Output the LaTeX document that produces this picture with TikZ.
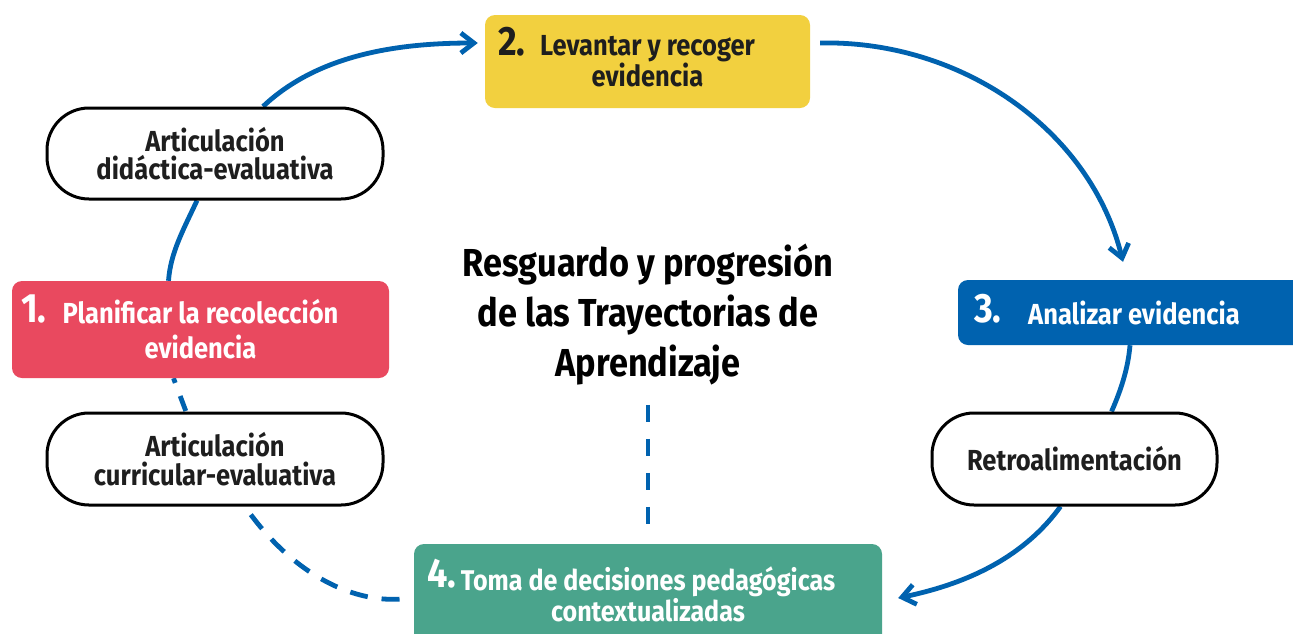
\documentclass[tikz,border=0pt]{standalone}
\usepackage{fontspec}
\setmainfont{Fira Sans}[FakeStretch=0.88]
\usetikzlibrary{arrows.meta}
\definecolor{cyel}{HTML}{F2D03F}
\definecolor{cred}{HTML}{E9495F}
\definecolor{cblue}{HTML}{0062AF}
\definecolor{cgreen}{HTML}{4AA48C}
\definecolor{ctext}{HTML}{1E1E1E}
\pgfdeclarelayer{bg}
\pgfdeclarelayer{conn}
\pgfsetlayers{bg,conn,main}
\begin{document}
\begin{tikzpicture}[x=1pt,y=1pt,
  stage/.style={rounded corners=10pt,inner sep=0pt,draw=none,align=center,
    font=\bfseries\fontsize{29}{27}\selectfont},
  pill/.style={draw=black,line width=3pt,rounded corners=42pt,fill=white,inner sep=0pt,
    align=center,text=ctext,font=\bfseries\fontsize{29}{28.5}\selectfont},
  num/.style={font=\bfseries\fontsize{41}{41}\selectfont,inner sep=0pt,anchor=base west},
  link/.style={draw=cblue,line width=4.8pt},
  tipped/.style={-{Straight Barb[length=13pt,width=20pt]}},
  dlink/.style={link,dash pattern=on 18pt off 14pt}]
\useasboundingbox (0,0) rectangle (1293,-633);
\begin{pgfonlayer}{bg}
\fill[white] (0,0) rectangle (1293,-633);
\end{pgfonlayer}

% stages
\node[stage,fill=cyel,text=ctext,minimum width=325pt,minimum height=93pt] (s2) at (647.5,-61.5)
  {Levantar y recoger\\evidencia};
\node[stage,fill=cred,text=white,minimum width=377pt,minimum height=97pt,
  font=\bfseries\fontsize{29}{35}\selectfont] (s1) at (200.5,-329.5)
  {Planificar la recolección\\evidencia};
\node[stage,fill=cblue,text=white,minimum width=352pt,minimum height=65pt] (s3) at (1134,-312.5)
  {Analizar evidencia};
\node[stage,fill=cgreen,text=white,minimum width=468pt,minimum height=101pt,
  font=\bfseries\fontsize{28.5}{28}\selectfont] (s4) at (648,-594.5)
  {Toma de decisiones pedagógicas\\contextualizadas};

% numbers
\node[num,text=ctext] (n2) at (498,-55) {2.};
\node[num,text=white] (n1) at (21,-322) {1.};
\node[num,text=white] (n3) at (974,-322) {3.};
\node[num,text=white] (n4) at (427,-587) {4.};

% pills
\node[pill,minimum width=336pt,minimum height=91pt] (pA) at (215,-153.5)
  {Articulación\\didáctica-evaluativa};
\node[pill,minimum width=336pt,minimum height=92pt] (pB) at (215,-459)
  {Articulación\\curricular-evaluativa};
\node[pill,minimum width=285pt,minimum height=92pt] (pC) at (1074.5,-459)
  {Retroalimentación};

% title
\node[inner sep=0pt,align=center,text=black,font=\bfseries\fontsize{39}{50}\selectfont]
  (title) at (648,-315) {Resguardo y progresión\\de las Trayectorias de\\Aprendizaje};

% connectors
\begin{pgfonlayer}{conn}
\draw[link,tipped] ([xshift=48pt]pA.north) .. controls +(55,52) and +(-80,0) ..
  ([xshift=-7pt,yshift=18.5pt]s2.west);
\draw[link] ([xshift=-18pt]pA.south) .. controls +(-14,-30) and +(2,28) ..
  ([xshift=-32pt]s1.north);
\draw[link,dash pattern=on 16pt off 14pt,dash phase=11pt] ([xshift=-27pt]s1.south) --
  ([xshift=-29pt]pB.north);
\draw[dlink,dash phase=22pt] ([xshift=30pt]pB.south) .. controls +(45,-65) and +(-52,-4) ..
  ([xshift=-12pt,yshift=-4.5pt]s4.west);
\draw[link,tipped] ([xshift=10pt,yshift=18.5pt]s2.east) .. controls +(140,3) and +(-33,133) ..
  ([xshift=-11pt,yshift=18pt]s3.north);
\draw[link] ([xshift=-4pt]s3.south) .. controls +(-2,-25) and +(8,18) ..
  ([xshift=37pt]pC.north);
\draw[link,tipped] ([xshift=-14pt]pC.south) .. controls +(-40,-55) and +(62,13) ..
  ([xshift=16pt,yshift=-3.5pt]s4.east);
\draw[link,dash pattern=on 17pt off 17pt] ([yshift=-19pt]title.south) --
  ([yshift=17pt]s4.north);
\end{pgfonlayer}
\end{tikzpicture}
\end{document}
